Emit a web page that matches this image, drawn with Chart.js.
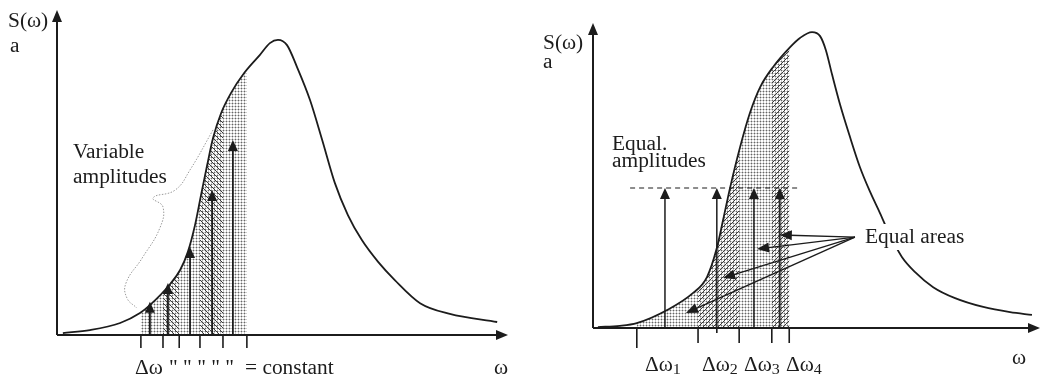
<!DOCTYPE html>
<html>
<head>
<meta charset="utf-8">
<script src="https://cdn.jsdelivr.net/npm/chart.js@4.4.1/dist/chart.umd.min.js"></script>
<style>
  body { margin: 0; background: #fff; }
  #wrap { position: relative; width: 1041px; height: 381px; overflow: hidden; }
  canvas { position: absolute; top: 0; }
  #left { left: 0; }
  #right { left: 525px; }
</style>
</head>
<body>
<div id="wrap">
  <canvas id="left" width="525" height="381"></canvas>
  <canvas id="right" width="516" height="381"></canvas>
</div>
<script>
// Left: spectrum sampled with constant Δω -> variable amplitudes
const leftOmega = [0.13, 0.73, 1.40, 1.84, 2.06, 2.51, 2.73, 2.90, 3.06, 3.19, 3.33, 3.46, 3.64, 3.86, 4.15, 4.50, 4.72, 4.90, 5.10, 5.32, 5.61, 5.88, 6.16, 6.45, 6.76, 7.12, 7.49, 8.05, 8.71, 9.76];
const leftS     = [0.006, 0.015, 0.037, 0.068, 0.092, 0.157, 0.200, 0.255, 0.338, 0.428, 0.523, 0.606, 0.683, 0.745, 0.806, 0.862, 0.898, 0.908, 0.892, 0.825, 0.723, 0.600, 0.468, 0.369, 0.292, 0.225, 0.169, 0.098, 0.065, 0.040];
const leftTicks = [1.86, 2.35, 2.71, 3.17, 3.68, 4.21];
const leftHatchBands = [1, 3];
const leftArrowOmega = [2.06, 2.46, 2.95, 3.44, 3.90];
const leftArrowS     = [0.102, 0.160, 0.271, 0.446, 0.600];
const braceOmega = [3.46, 2.95, 2.62, 2.13, 2.35, 2.28, 1.89, 1.53, 1.55, 1.77];
const braceS     = [0.631, 0.508, 0.446, 0.422, 0.394, 0.329, 0.237, 0.160, 0.114, 0.083];

// Right: spectrum split into equal areas -> equal amplitudes
const rightOmega = [0.11, 0.60, 0.98, 1.66, 2.24, 2.55, 2.77, 2.91, 3.07, 3.29, 3.51, 3.74, 4.03, 4.41, 4.63, 4.90, 5.08, 5.21, 5.35, 5.53, 5.75, 5.97, 6.20, 6.42, 6.64, 6.91, 7.20, 7.61, 8.10, 8.73, 9.33, 9.82];
const rightS     = [0.003, 0.007, 0.016, 0.059, 0.115, 0.167, 0.262, 0.354, 0.462, 0.593, 0.705, 0.790, 0.856, 0.921, 0.951, 0.970, 0.957, 0.911, 0.830, 0.731, 0.626, 0.528, 0.446, 0.377, 0.305, 0.233, 0.184, 0.134, 0.098, 0.069, 0.052, 0.043];
const rightTicks = [0.98, 2.35, 2.77, 3.27, 4.00, 4.39];
const rightTickLen = [20, 15, 5, 15, 15, 15];
const rightHatchBands = [[2.35, 3.27], [4.00, 4.39]];
const rightArrowOmega = [1.61, 2.77, 3.60, 4.18];
const rightArrowS     = [0.459, 0.459, 0.459, 0.459];
const amplitudeLine = [0.83, 4.59];
const pointerFrom = [5.86, 0.298];
const pointerOmega = [4.18, 3.67, 2.91, 2.08];
const pointerS     = [0.305, 0.259, 0.164, 0.049];

const INK = '#1c1c1c';
const SERIF = '"Liberation Serif", "Times New Roman", serif';

function toPoints(xs, ys) {
    return xs.map((x, i) => ({ x: x, y: ys[i] }));
}

// Fill patterns
function dotPattern(ctx) {
    const c = document.createElement('canvas');
    c.width = 3; c.height = 3;
    const g = c.getContext('2d');
    g.fillStyle = '#c8c8c8';
    g.fillRect(1, 0, 1, 3);
    g.fillRect(0, 1, 3, 1);
    g.fillStyle = '#666';
    g.fillRect(1, 1, 1, 1);
    return ctx.createPattern(c, 'repeat');
}

function hatchPattern(ctx, rising) {
    const s = 5;
    const c = document.createElement('canvas');
    c.width = s; c.height = s;
    const g = c.getContext('2d');
    g.strokeStyle = '#3c3c3c';
    g.lineWidth = 1;
    g.beginPath();
    if (rising) {
        g.moveTo(-1, s + 1); g.lineTo(s + 1, -1);
        g.moveTo(-1, 1); g.lineTo(1, -1);
        g.moveTo(s - 1, s + 1); g.lineTo(s + 1, s - 1);
    } else {
        g.moveTo(-1, -1); g.lineTo(s + 1, s + 1);
        g.moveTo(-1, s - 1); g.lineTo(1, s + 1);
        g.moveTo(s - 1, -1); g.lineTo(s + 1, 1);
    }
    g.stroke();
    return ctx.createPattern(c, 'repeat');
}

// Drawing helpers
function tracePath(ctx, pts) {
    ctx.moveTo(pts[0].x, pts[0].y);
    for (let i = 1; i < pts.length; i++) {
        const p = pts[i - 1], q = pts[i];
        if (p.cp2x !== undefined && q.cp1x !== undefined) {
            ctx.bezierCurveTo(p.cp2x, p.cp2y, q.cp1x, q.cp1y, q.x, q.y);
        } else {
            ctx.lineTo(q.x, q.y);
        }
    }
}

function fillUnder(chart, from, to, style) {
    const { ctx, chartArea, scales } = chart;
    const pts = chart.getDatasetMeta(0).data;
    const x0 = scales.x.getPixelForValue(from);
    const x1 = scales.x.getPixelForValue(to);
    ctx.save();
    ctx.beginPath();
    ctx.rect(x0, chartArea.top, x1 - x0, chartArea.bottom - chartArea.top);
    ctx.clip();
    ctx.beginPath();
    tracePath(ctx, pts);
    ctx.lineTo(pts[pts.length - 1].x, chartArea.bottom);
    ctx.lineTo(pts[0].x, chartArea.bottom);
    ctx.closePath();
    ctx.fillStyle = style;
    ctx.fill();
    ctx.restore();
}

function arrowHead(ctx, x, y, angle, len, half) {
    ctx.save();
    ctx.translate(x, y);
    ctx.rotate(angle);
    ctx.beginPath();
    ctx.moveTo(0, 0);
    ctx.lineTo(-len, -half);
    ctx.lineTo(-len, half);
    ctx.closePath();
    ctx.fill();
    ctx.restore();
}

function arrow(ctx, x0, y0, x1, y1, len, half, width) {
    const ang = Math.atan2(y1 - y0, x1 - x0);
    ctx.save();
    ctx.strokeStyle = INK;
    ctx.fillStyle = INK;
    ctx.lineWidth = width;
    ctx.beginPath();
    ctx.moveTo(x0, y0);
    ctx.lineTo(x1 - Math.cos(ang) * len * 0.8, y1 - Math.sin(ang) * len * 0.8);
    ctx.stroke();
    arrowHead(ctx, x1, y1, ang, len, half);
    ctx.restore();
}

function drawAxes(chart) {
    const { ctx, chartArea: a } = chart;
    arrow(ctx, a.left, a.bottom, a.left, a.top, 12, 5, 2);
    arrow(ctx, a.left, a.bottom, a.right, a.bottom, 12, 5, 2);
}

function text(ctx, str, x, y, size) {
    ctx.save();
    ctx.translate(x, y);
    ctx.scale(1.07, 1);
    ctx.font = (size || 20) + 'px ' + SERIF;
    ctx.textBaseline = 'alphabetic';
    ctx.fillStyle = INK;
    ctx.fillText(str, 0, 0);
    const w = ctx.measureText(str).width * 1.07;
    ctx.restore();
    return w;
}

function deltaLabel(ctx, idx, x, y) {
    const w = text(ctx, 'Δω', x, y, 20);
    text(ctx, String(idx), x + w, y + 3, 15);
}

function drawTicks(chart, ticks, lens) {
    const { ctx, chartArea: a, scales } = chart;
    ctx.save();
    ctx.strokeStyle = INK;
    ctx.lineWidth = 1.6;
    ticks.forEach((t, i) => {
        const x = scales.x.getPixelForValue(t);
        ctx.beginPath();
        ctx.moveTo(x, a.bottom);
        ctx.lineTo(x, a.bottom + (Array.isArray(lens) ? lens[i] : lens));
        ctx.stroke();
    });
    ctx.restore();
}

// Left panel
const leftPlugin = {
    id: 'leftDecor',
    beforeDatasetsDraw(chart) {
        const ctx = chart.ctx;
        fillUnder(chart, leftTicks[0], leftTicks[leftTicks.length - 1], dotPattern(ctx));
        const hatch = hatchPattern(ctx, false);
        leftHatchBands.forEach(b => fillUnder(chart, leftTicks[b], leftTicks[b + 1], hatch));
    },
    afterDatasetsDraw(chart) {
        const { ctx, scales } = chart;
        const base = scales.y.getPixelForValue(0);
        leftArrowOmega.forEach((w, i) => {
            const x = scales.x.getPixelForValue(w);
            arrow(ctx, x, base, x, scales.y.getPixelForValue(leftArrowS[i]), 11, 5, 1.8);
        });
        drawTicks(chart, leftTicks, 13);
        drawAxes(chart);

        text(ctx, 'S(ω)', 8, 27, 20);
        text(ctx, 'a', 10, 52, 20);
        text(ctx, 'Variable', 73, 158, 20);
        text(ctx, 'amplitudes', 73, 183, 20);
        text(ctx, 'Δω', 135, 374, 20);
        text(ctx, '" " " " "', 169, 374, 20);
        text(ctx, '= constant', 245, 374, 20);
        text(ctx, 'ω', 494, 374, 20);
    }
};

new Chart(document.getElementById('left').getContext('2d'), {
    type: 'line',
    data: {
        datasets: [{
            data: toPoints(leftOmega, leftS),
            borderColor: INK,
            borderWidth: 1.8,
            cubicInterpolationMode: 'monotone',
            fill: false
        }, {
            data: toPoints(braceOmega, braceS),
            borderColor: '#9a9a9a',
            borderWidth: 1,
            borderDash: [1.5, 1.5],
            tension: 0.45,
            fill: false
        }]
    },
    options: {
        responsive: false,
        animation: false,
        layout: { padding: { left: 57, right: 17, top: 10, bottom: 46 } },
        elements: { point: { radius: 0 } },
        scales: {
            x: { type: 'linear', min: 0, max: 10, display: false },
            y: { min: 0, max: 1, display: false }
        },
        plugins: { legend: { display: false }, tooltip: { enabled: false } }
    },
    plugins: [leftPlugin]
});

// Right panel
const rightPlugin = {
    id: 'rightDecor',
    beforeDatasetsDraw(chart) {
        const ctx = chart.ctx;
        fillUnder(chart, rightTicks[0], rightTicks[rightTicks.length - 1], dotPattern(ctx));
        const hatch = hatchPattern(ctx, true);
        rightHatchBands.forEach(b => fillUnder(chart, b[0], b[1], hatch));
    },
    afterDatasetsDraw(chart) {
        const { ctx, scales } = chart;
        const px = v => scales.x.getPixelForValue(v);
        const py = v => scales.y.getPixelForValue(v);
        const base = py(0);
        rightArrowOmega.forEach((w, i) => {
            arrow(ctx, px(w), base, px(w), py(rightArrowS[i]), 11, 5, 1.5);
        });
        pointerOmega.forEach((w, i) => {
            arrow(ctx, px(pointerFrom[0]), py(pointerFrom[1]), px(w), py(pointerS[i]), 12, 5, 1.4);
        });
        drawTicks(chart, rightTicks, rightTickLen);
        drawAxes(chart);

        text(ctx, 'S(ω)', 18, 49, 20);
        text(ctx, 'a', 18, 68, 20);
        text(ctx, 'Equal.', 87, 150, 20);
        text(ctx, 'amplitudes', 87, 167, 20);

        // label sits on a white box that interrupts the curve
        ctx.save();
        ctx.fillStyle = '#fff';
        ctx.fillRect(338, 224, 108, 26);
        ctx.restore();
        text(ctx, 'Equal areas', 340, 243, 20);

        deltaLabel(ctx, 1, 120, 371);
        deltaLabel(ctx, 2, 177, 371);
        deltaLabel(ctx, 3, 219, 371);
        deltaLabel(ctx, 4, 261, 371);
        text(ctx, 'ω', 487, 364, 20);
    }
};

new Chart(document.getElementById('right').getContext('2d'), {
    type: 'line',
    data: {
        datasets: [{
            data: toPoints(rightOmega, rightS),
            borderColor: INK,
            borderWidth: 1.8,
            cubicInterpolationMode: 'monotone',
            fill: false
        }, {
            data: toPoints(amplitudeLine, [rightArrowS[0], rightArrowS[0]]),
            borderColor: INK,
            borderWidth: 1.2,
            borderDash: [5, 4],
            fill: false
        }]
    },
    options: {
        responsive: false,
        animation: false,
        layout: { padding: { left: 68, right: 1, top: 23, bottom: 53 } },
        elements: { point: { radius: 0 } },
        scales: {
            x: { type: 'linear', min: 0, max: 10, display: false },
            y: { min: 0, max: 1, display: false }
        },
        plugins: { legend: { display: false }, tooltip: { enabled: false } }
    },
    plugins: [rightPlugin]
});
</script>
</body>
</html>
